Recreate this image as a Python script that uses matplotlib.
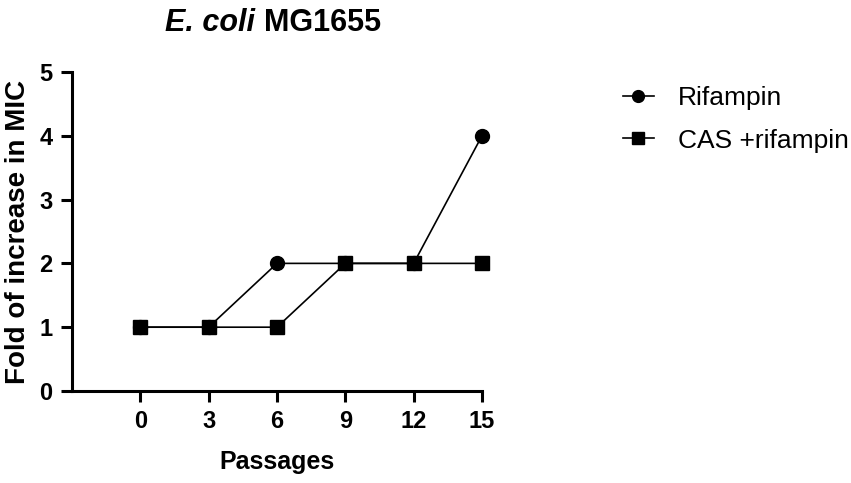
import matplotlib.pyplot as plt

plt.rcParams['font.family'] = ['Liberation Sans', 'DejaVu Sans']

passages = [0, 3, 6, 9, 12, 15]
rifampin = [1, 1, 2, 2, 2, 4]
cas_rifampin = [1, 1, 1, 2, 2, 2]

fig = plt.figure(figsize=(8.51, 4.83), dpi=100)
ax = fig.add_axes([0.0846, 0.1905, 0.4818, 0.6605])

ax.plot(passages, rifampin, color='black', lw=1.2, marker='o', ms=10, label='Rifampin', clip_on=False, zorder=3)
ax.plot(passages, cas_rifampin, color='black', lw=1.2, marker='s', ms=10, label='CAS +rifampin', clip_on=False, zorder=3)

ax.set_xlim(-3, 15)
ax.set_ylim(0, 5)
ax.set_xticks(passages)
ax.set_yticks(range(0, 6))
for s in ['top', 'right']:
    ax.spines[s].set_visible(False)
for s in ['left', 'bottom']:
    ax.spines[s].set_linewidth(2.2)
ax.tick_params(width=2.2, length=8, labelsize=17, pad=6)
for lbl in ax.get_xticklabels() + ax.get_yticklabels():
    lbl.set_fontweight('bold')

ax.set_xlabel('Passages', fontsize=18, fontweight='bold', labelpad=12)
ax.set_ylabel('Fold of increase in MIC', fontsize=20, fontweight='bold', labelpad=6)

# title: italic species name + bold strain
t1 = fig.text(0.194, 0.952, 'E. coli ', fontsize=22, fontweight='bold', style='italic', va='center')
fig.canvas.draw()
ax.annotate('MG1655', xy=(1, 0.5), xycoords=t1, va='center', ha='left',
            fontsize=22, fontweight='bold')

ax.legend(loc='upper left', bbox_to_anchor=(1.285, 1.03), frameon=False, fontsize=19,
          handlelength=1.2, handletextpad=0.9, labelspacing=0.7, markerscale=0.85)

fig.savefig('out.png', dpi=100)
